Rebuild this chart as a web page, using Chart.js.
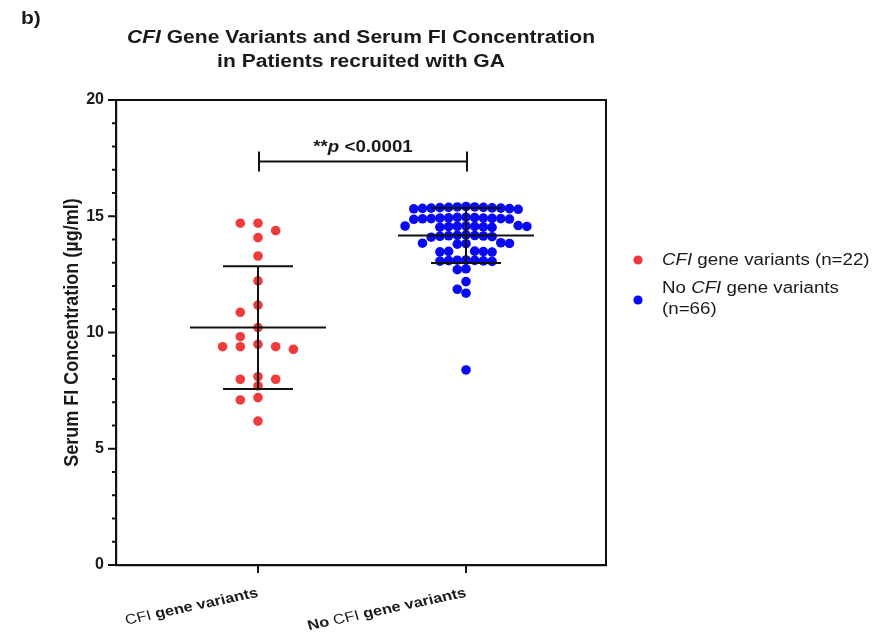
<!DOCTYPE html>
<html>
<head>
<meta charset="utf-8">
<script src="https://cdn.jsdelivr.net/npm/chart.js@4.4.1/dist/chart.umd.min.js"></script>
<style>
  html, body { margin: 0; padding: 0; background: #fff; }
  #wrap { width: 874px; height: 643px; }
</style>
</head>
<body>
<div id="wrap"><canvas id="myChart" width="874" height="643"></canvas></div>
<script>
// groups (x categories)
const groups = ["CFI gene variants", "No CFI gene variants"];
// serum FI concentration (µg/ml)
const variantValues = [14.70, 14.70, 14.38, 14.08, 13.29, 12.22, 11.18, 10.87, 10.21, 9.82,
  9.49, 9.39, 9.39, 9.39, 9.28, 8.10, 7.99, 7.99, 7.70, 7.20, 7.10, 6.19];
const noVariantValues = [
  15.42, 15.40, 15.38, 15.37, 15.36, 15.35, 15.35, 15.34, 15.33, 15.32, 15.30, 15.38, 15.40,
  14.96, 14.94, 14.93, 14.92, 14.91, 14.90, 14.90, 14.89, 14.88, 14.92, 14.95, 14.87,
  14.60, 14.58, 14.57, 14.56, 14.55, 14.54, 14.53, 14.52, 14.56, 14.58,
  14.20, 14.18, 14.16, 14.15, 14.14, 14.12, 14.10, 14.17,
  13.86, 13.84, 13.83, 13.82, 13.80,
  13.50, 13.49, 13.48, 13.47, 13.46,
  13.12, 13.11, 13.10, 13.09, 13.08, 13.07, 13.06,
  12.74, 12.70,
  12.19, 11.86, 11.69, 8.39];
const yTicks = [0, 5, 10, 15, 20];
const pText = "<0.0001";
const bracketAt = 17.35;

const FONT = '"Liberation Sans", Arial, sans-serif';
const SX = 1.17; // source picture is stretched sideways a bit
const colors = ["#ef3b3b", "#0a0af0"];

// plot geometry used for the swarm spacing
const PX_PER_Y = 465 / 20;
const PX_PER_X = 208;
const X_MIN = 1 - 142 / PX_PER_X;
const X_MAX = 2 + 140 / PX_PER_X;

function mean(a) { return a.reduce((s, v) => s + v, 0) / a.length; }
function sd(a) {
  const m = mean(a);
  return Math.sqrt(a.reduce((s, v) => s + (v - m) * (v - m), 0) / (a.length - 1));
}

// simple column-scatter layout: same column only if far enough apart vertically
function swarm(values, groupX, maxHalf) {
  const sorted = values.slice().sort((a, b) => b - a);
  let dx = 17.7;
  let placed;
  while (true) {
    placed = [];
    const dy = Math.min(9.2, dx);
    sorted.forEach((v) => {
      const py = v * PX_PER_Y;
      for (let k = 0; ; k++) {
        const col = k === 0 ? 0 : (k % 2 ? -Math.ceil(k / 2) : Math.ceil(k / 2));
        const hit = placed.some((p) => p.col === col && Math.abs(p.py - py) < dy);
        if (!hit) { placed.push({ col: col, py: py, v: v }); break; }
      }
    });
    const w = Math.max(...placed.map((p) => Math.abs(p.col))) * dx;
    if (w <= maxHalf || dx < 3) break;
    dx -= 0.25;
  }
  return placed.map((p) => ({ x: groupX + (p.col * dx) / PX_PER_X, y: p.v }));
}

function splitCfi(text, cfiFont, otherFont) {
  return text.split(/(CFI)/).filter((t) => t !== "").map((t) => [t, t === "CFI" ? cfiFont : otherFont]);
}

function drawRich(ctx, segs, x, y, align) {
  let w = 0;
  segs.forEach((s) => { ctx.font = s[1]; w += ctx.measureText(s[0]).width; });
  let cx = align === "center" ? x - w / 2 : align === "right" ? x - w : x;
  ctx.textAlign = "left";
  segs.forEach((s) => { ctx.font = s[1]; ctx.fillText(s[0], cx, y); cx += ctx.measureText(s[0]).width; });
  return w;
}

function stretched(ctx, x, y, fn) {
  ctx.save();
  ctx.translate(x, y);
  ctx.scale(SX, 1);
  fn();
  ctx.restore();
}

function line(ctx, x1, y1, x2, y2) {
  ctx.beginPath();
  ctx.moveTo(x1, y1);
  ctx.lineTo(x2, y2);
  ctx.stroke();
}

const allValues = [variantValues, noVariantValues];

const decor = {
  id: "decor",
  afterDatasetsDraw(chart) {
    const { ctx, scales: { x, y } } = chart;
    ctx.save();
    ctx.strokeStyle = "#111";
    ctx.lineWidth = 2;
    allValues.forEach((vals, i) => {
      const m = mean(vals), s = sd(vals);
      const cx = x.getPixelForValue(i + 1);
      const ym = y.getPixelForValue(m);
      const yt = y.getPixelForValue(m + s);
      const yb = y.getPixelForValue(m - s);
      line(ctx, cx - 68, ym, cx + 68, ym);
      line(ctx, cx, yt, cx, yb);
      line(ctx, cx - 35, yt, cx + 35, yt);
      line(ctx, cx - 35, yb, cx + 35, yb);
    });
    ctx.restore();
  },
  afterDraw(chart) {
    const { ctx, chartArea: a, scales: { x, y } } = chart;
    ctx.save();
    ctx.strokeStyle = "#111";
    ctx.fillStyle = "#1a1a1a";
    ctx.lineWidth = 2;
    // frame
    line(ctx, a.left, a.top, a.right + 1, a.top);
    line(ctx, a.right, a.top, a.right, a.bottom);
    // y ticks, major and minor
    for (let v = 0; v <= 20; v++) {
      const py = y.getPixelForValue(v);
      const len = yTicks.includes(v) ? 8 : 4;
      line(ctx, a.left - len, py, a.left, py);
    }
    // x ticks and labels
    groups.forEach((g, i) => {
      const cx = x.getPixelForValue(i + 1);
      line(ctx, cx, a.bottom, cx, a.bottom + 8);
      ctx.save();
      ctx.translate(cx - 2, a.bottom + 21);
      ctx.scale(SX, 1);
      ctx.rotate(-14 * Math.PI / 180);
      ctx.textBaseline = "top";
      drawRich(ctx, splitCfi(g, "14px " + FONT, "bold 14px " + FONT), 0, 0, "right");
      ctx.restore();
    });
    // significance bracket
    const x1 = x.getPixelForValue(1) + 1, x2 = x.getPixelForValue(2) + 1;
    const yb = y.getPixelForValue(bracketAt);
    line(ctx, x1, yb, x2, yb);
    line(ctx, x1, yb - 10, x1, yb + 10);
    line(ctx, x2, yb - 10, x2, yb + 10);
    ctx.textBaseline = "alphabetic";
    stretched(ctx, (x1 + x2) / 2, yb - 10, () => {
      drawRich(ctx, [["**", "bold 16px " + FONT], ["p", "italic bold 16px " + FONT], [" " + pText, "bold 16px " + FONT]], 0, 0, "center");
    });
    // panel letter and title
    ctx.textBaseline = "middle";
    stretched(ctx, 21, 19, () => drawRich(ctx, [["b)", "bold 18px " + FONT]], 0, 0, "left"));
    const tMid = (a.left + a.right) / 2;
    stretched(ctx, tMid, 38, () => drawRich(ctx, splitCfi("CFI Gene Variants and Serum FI Concentration",
      "italic bold 18px " + FONT, "bold 18px " + FONT), 0, 0, "center"));
    stretched(ctx, tMid, 62, () => drawRich(ctx, [["in Patients recruited with GA", "bold 18px " + FONT]], 0, 0, "center"));
    // y axis title
    ctx.save();
    ctx.translate(72, (a.top + a.bottom) / 2);
    ctx.scale(SX, 1);
    ctx.rotate(-Math.PI / 2);
    drawRich(ctx, [["Serum FI Concentration (µg/ml)", "bold 18px " + FONT]], 0, 0, "center");
    ctx.restore();
    // legend
    const lx = 638, tx = 662;
    let ly = 260;
    groups.forEach((g, i) => {
      const n = allValues[i].length;
      const reg = "16px " + FONT, it = "italic 16px " + FONT;
      const full = splitCfi(g + " (n=" + n + ")", it, reg);
      let w = 0;
      full.forEach((s) => { ctx.font = s[1]; w += ctx.measureText(s[0]).width; });
      ctx.beginPath();
      ctx.fillStyle = colors[i];
      if (w * SX <= 212) {
        ctx.arc(lx, ly, 4.6, 0, Math.PI * 2);
        ctx.fill();
        ctx.fillStyle = "#1a1a1a";
        stretched(ctx, tx, ly + 1, () => drawRich(ctx, full, 0, 0, "left"));
        ly += 28;
      } else {
        ctx.arc(lx, ly + 12, 4.6, 0, Math.PI * 2);
        ctx.fill();
        ctx.fillStyle = "#1a1a1a";
        stretched(ctx, tx, ly + 0.5, () => drawRich(ctx, splitCfi(g, it, reg), 0, 0, "left"));
        stretched(ctx, tx, ly + 22, () => drawRich(ctx, [["(n=" + n + ")", reg]], 0, 0, "left"));
        ly += 50;
      }
    });
    ctx.restore();
  }
};

const ctx = document.getElementById("myChart").getContext("2d");
const myChart = new Chart(ctx, {
  type: "scatter",
  data: {
    datasets: [
      {
        label: groups[0],
        data: swarm(variantValues, 1, 63),
        backgroundColor: colors[0],
        borderWidth: 0,
        pointRadius: 4.8,
      },
      {
        label: groups[1],
        data: swarm(noVariantValues, 2, 63),
        backgroundColor: colors[1],
        borderWidth: 0,
        pointRadius: 4.8,
      },
    ],
  },
  options: {
    responsive: false,
    animation: false,
    layout: { padding: { top: 100, right: 268, left: 0, bottom: 0 } },
    plugins: { legend: { display: false }, tooltip: { enabled: false } },
    scales: {
      x: {
        type: "linear",
        min: X_MIN,
        max: X_MAX,
        grid: { display: false },
        ticks: { display: false },
        border: { display: true, color: "#111", width: 2.2 },
        afterFit(s) { s.height = 78; },
      },
      y: {
        min: 0,
        max: 20,
        ticks: {
          stepSize: 1,
          autoSkip: false,
          callback: (v) => (yTicks.includes(v) ? v : ""),
          font: { family: FONT, size: 16, weight: "bold" },
          color: "#1a1a1a",
          padding: 4,
        },
        grid: { drawOnChartArea: false, tickLength: 8, color: "rgba(0,0,0,0)" },
        border: { color: "#111", width: 2.2 },
        afterFit(s) { s.width = 116; },
      },
    },
  },
  plugins: [decor],
});
</script>
</body>
</html>
